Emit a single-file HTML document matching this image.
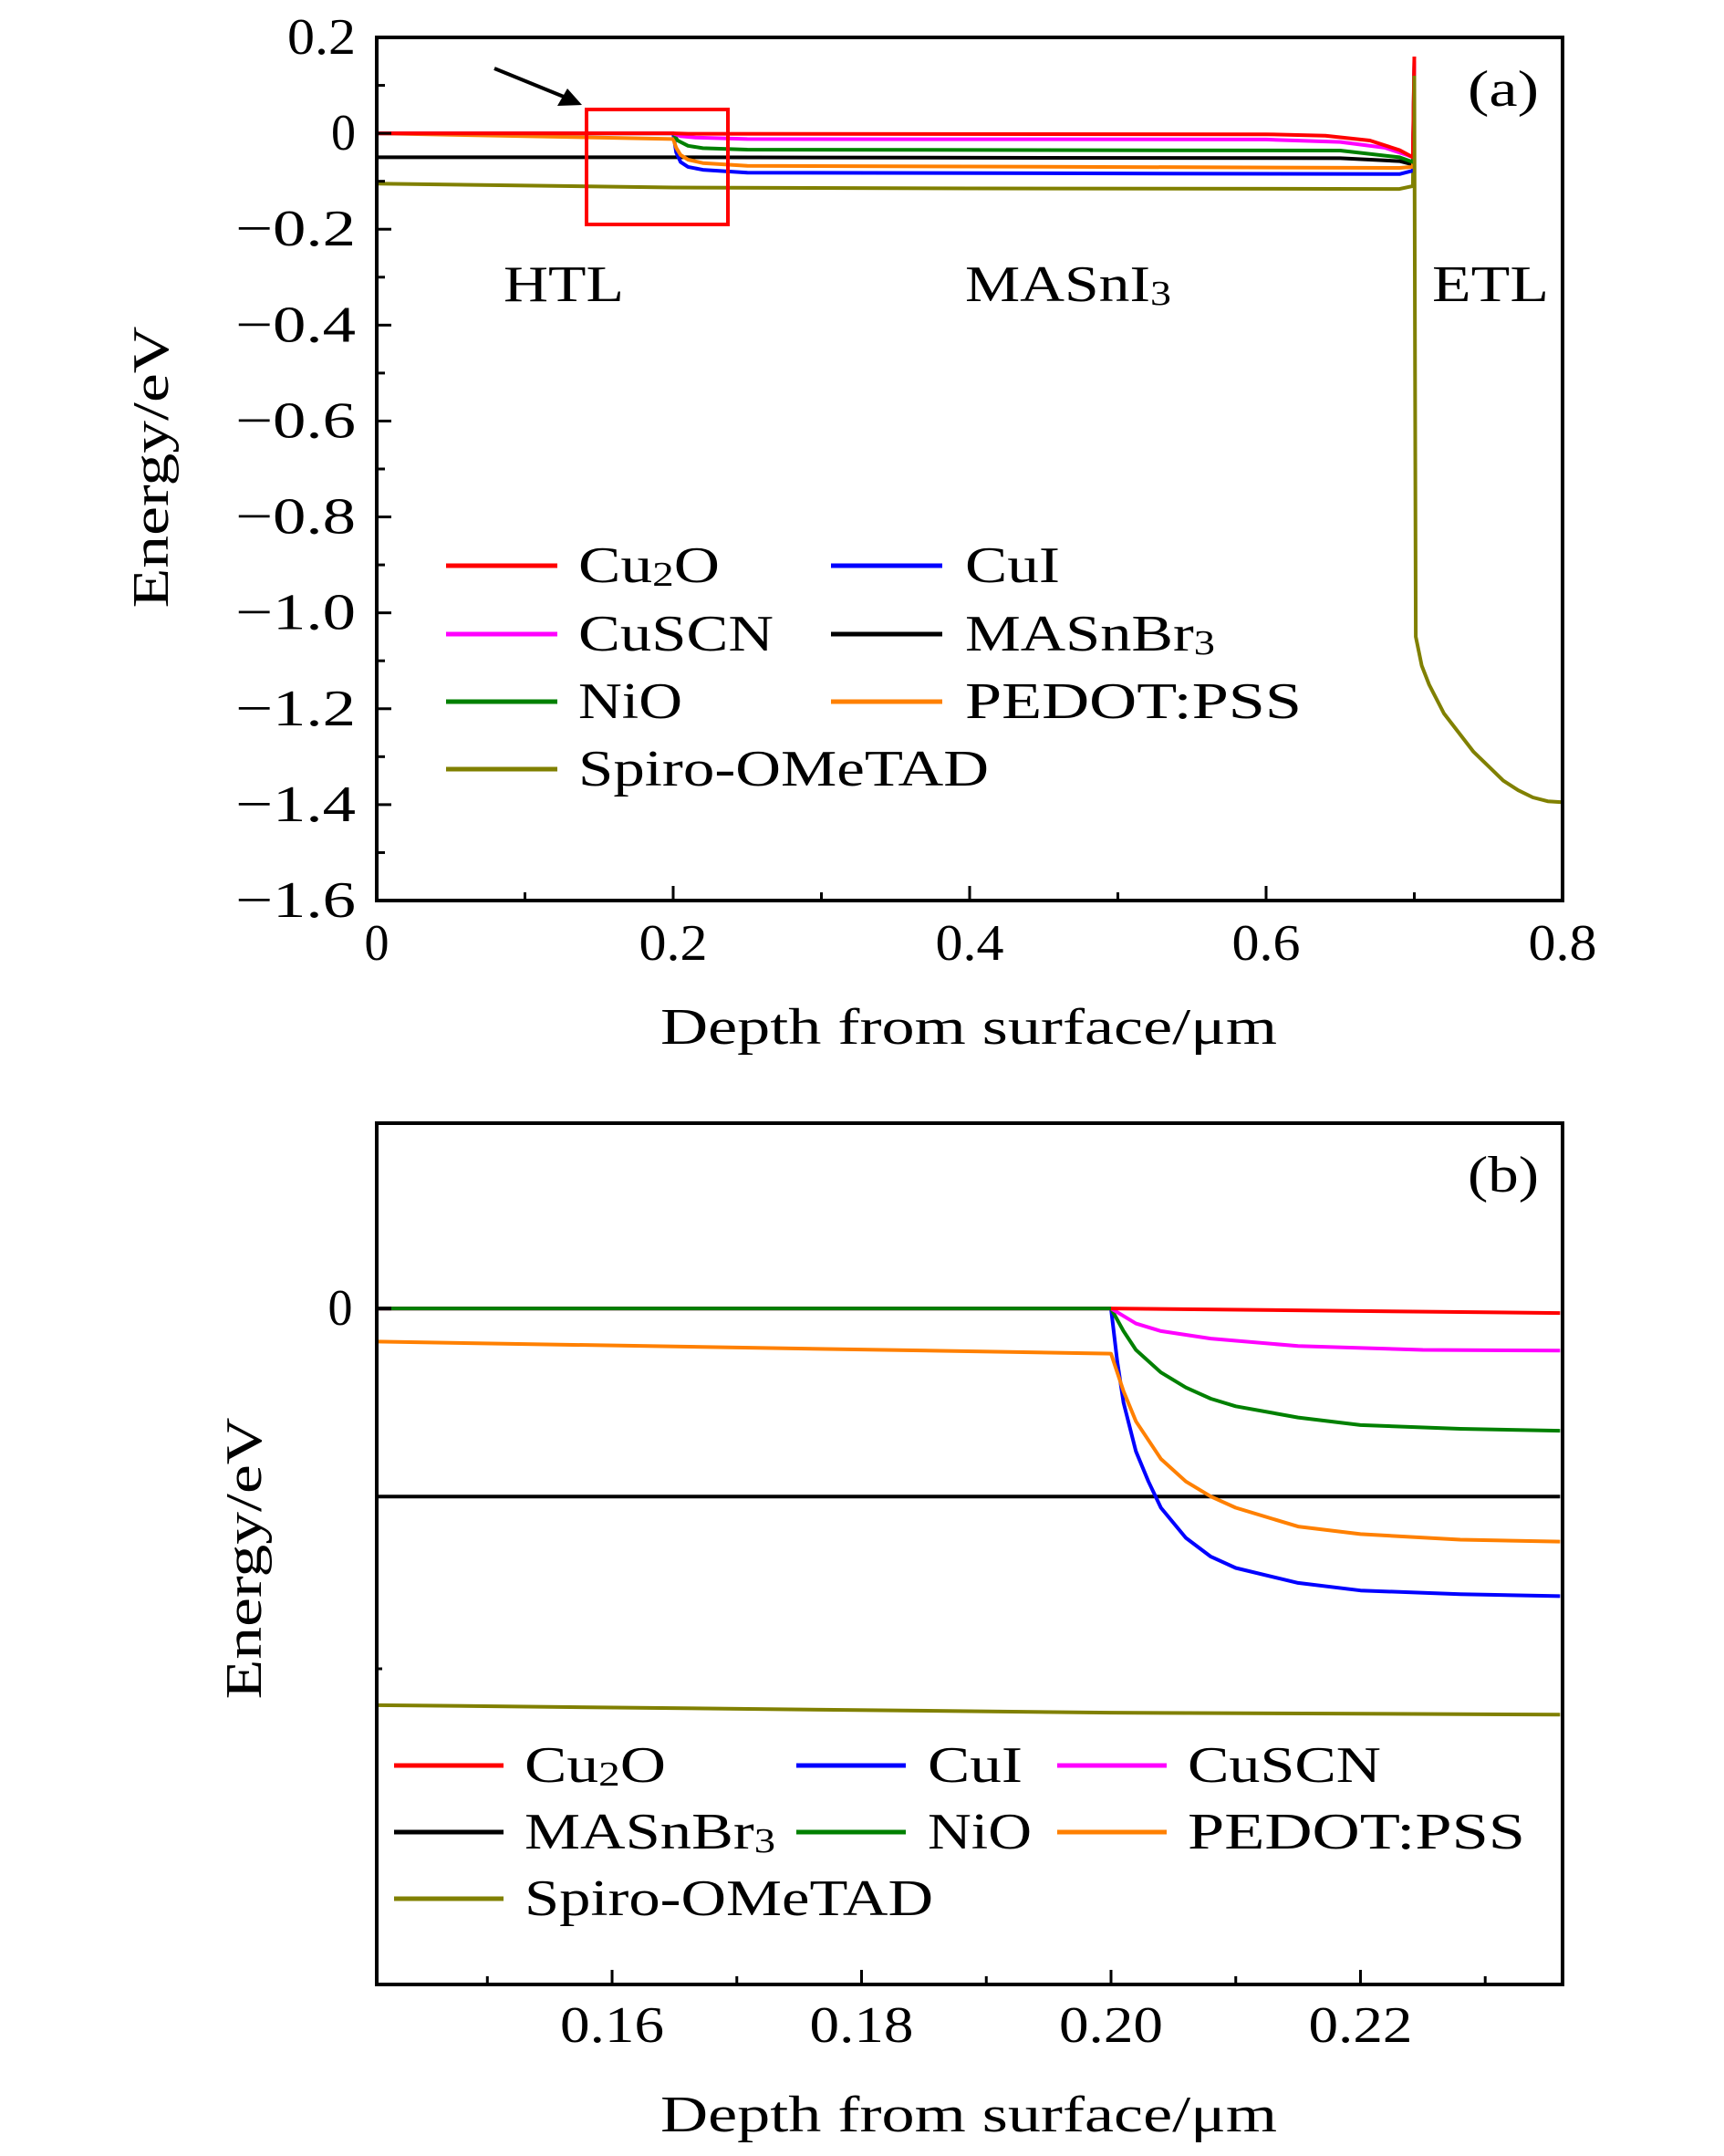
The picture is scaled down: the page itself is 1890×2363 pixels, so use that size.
<!DOCTYPE html>
<html><head><meta charset="utf-8"><style>
html,body{margin:0;padding:0;background:#fff;}
svg{display:block;font-family:"Liberation Serif",serif;}
</style></head><body>
<svg id="s" width="1890" height="2363" viewBox="0 0 1890 2363" xmlns="http://www.w3.org/2000/svg"></svg>
<script>
// ---------- data ----------
const seriesNames=["Cu2O","CuI","CuSCN","MASnBr3","NiO","PEDOT:PSS","Spiro-OMeTAD"];
const seriesColors=["#ff0000","#0000ff","#ff00ff","#000000","#008000","#ff8000","#808000"];
// panel (a)
const aX_Cu2O=[0,0.2,0.21,0.6,0.64,0.67,0.69,0.699,0.7];
const aY_Cu2O=[0,0,-0.001,-0.002,-0.005,-0.015,-0.035,-0.05,0.16];
const aX_CuI=[0,0.2,0.202,0.205,0.21,0.22,0.25,0.69,0.699,0.7];
const aY_CuI=[0,0,-0.04,-0.06,-0.07,-0.076,-0.082,-0.085,-0.078,0.14];
const aX_CuSCN=[0,0.2,0.205,0.215,0.25,0.6,0.65,0.68,0.695,0.699,0.7];
const aY_CuSCN=[0,0,-0.006,-0.009,-0.012,-0.013,-0.018,-0.03,-0.045,-0.05,0.15];
const aX_MASnBr3=[0,0.2,0.65,0.69,0.699,0.7];
const aY_MASnBr3=[-0.05,-0.05,-0.052,-0.058,-0.065,0.13];
const aX_NiO=[0,0.2,0.203,0.21,0.22,0.25,0.65,0.69,0.699,0.7];
const aY_NiO=[0,0,-0.015,-0.026,-0.031,-0.034,-0.036,-0.05,-0.06,0.15];
const aX_PEDOT=[0,0.2,0.202,0.205,0.21,0.22,0.25,0.69,0.699,0.7];
const aY_PEDOT=[0,-0.012,-0.03,-0.045,-0.055,-0.062,-0.068,-0.072,-0.07,0.14];
const aX_Spiro=[0,0.2,0.4,0.69,0.699,0.7];
const aY_Spiro=[-0.105,-0.113,-0.115,-0.116,-0.11,0.12];
const aX_ETL=[0.7,0.7005,0.701,0.705,0.71,0.72,0.73,0.74,0.75,0.76,0.77,0.78,0.79,0.8];
const aY_ETL=[0.12,-0.5,-1.05,-1.11,-1.15,-1.21,-1.25,-1.29,-1.32,-1.35,-1.37,-1.385,-1.393,-1.395];
const aXTicks=[0,0.2,0.4,0.6,0.8];
const aXTickLabels=["0","0.2","0.4","0.6","0.8"];
const aYTicks=[0.2,0,-0.2,-0.4,-0.6,-0.8,-1.0,-1.2,-1.4,-1.6];
const aYTickLabels=["0.2","0","−0.2","−0.4","−0.6","−0.8","−1.0","−1.2","−1.4","−1.6"];
// panel (b)
const bX_Cu2O=[0.141,0.2,0.236];
const bY_Cu2O=[0,0,-0.0012];
const bX_CuI=[0.141,0.2,0.2005,0.201,0.202,0.203,0.204,0.206,0.208,0.21,0.215,0.22,0.228,0.236];
const bY_CuI=[0,0,-0.014,-0.025,-0.038,-0.046,-0.053,-0.061,-0.066,-0.069,-0.073,-0.075,-0.076,-0.0765];
const bX_CuSCN=[0.141,0.2,0.202,0.204,0.208,0.215,0.225,0.236];
const bY_CuSCN=[0,0,-0.004,-0.006,-0.008,-0.010,-0.011,-0.0112];
const bX_MASnBr3=[0.141,0.236];
const bY_MASnBr3=[-0.05,-0.05];
const bX_NiO=[0.141,0.2,0.201,0.202,0.204,0.206,0.208,0.21,0.215,0.22,0.228,0.236];
const bY_NiO=[0,0,-0.006,-0.011,-0.017,-0.021,-0.024,-0.026,-0.029,-0.031,-0.032,-0.0325];
const bX_PEDOT=[0.141,0.2,0.201,0.202,0.204,0.206,0.208,0.21,0.215,0.22,0.228,0.236];
const bY_PEDOT=[-0.0088,-0.012,-0.022,-0.030,-0.040,-0.046,-0.050,-0.053,-0.058,-0.060,-0.0615,-0.062];
const bX_Spiro=[0.141,0.2,0.236];
const bY_Spiro=[-0.1055,-0.1075,-0.108];
const bXTicks=[0.16,0.18,0.20,0.22];
const bXTickLabels=["0.16","0.18","0.20","0.22"];
const bXMinor=[0.15,0.17,0.19,0.21,0.23];

// ---------- helpers ----------
const NS="http://www.w3.org/2000/svg";
const svg=document.getElementById('s');
function mk(tag,attrs,parent){const e=document.createElementNS(NS,tag);for(const k in attrs)e.setAttribute(k,attrs[k]);(parent||svg).appendChild(e);return e;}
function txt(s,x,y,size,anchor,parent,len){const a={x:x,y:y,'font-size':size,'text-anchor':anchor||'start','dominant-baseline':'central',fill:'#000'};if(len){a.textLength=len;a.lengthAdjust='spacingAndGlyphs';}const t=mk('text',a,parent);t.innerHTML=s;return t;}

const A={x0:413,x1:1713,y0:41,y1:987,xmin:0,xmax:0.8,ymin:-1.6,ymax:0.2};
const B={x0:413,x1:1713,y0:1231,y1:2175,xmin:0.14113,xmax:0.2362,ymin:-0.1798,ymax:0.0493};
function sx(P,v){return P.x0+(v-P.xmin)/(P.xmax-P.xmin)*(P.x1-P.x0);}
function sy(P,v){return P.y1-(v-P.ymin)/(P.ymax-P.ymin)*(P.y1-P.y0);}
function line(P,xs,ys,color,name,g){
  const d=xs.map((x,i)=>(i?'L':'M')+sx(P,x).toFixed(1)+','+sy(P,ys[i]).toFixed(1)).join(' ');
  const p=mk('path',{d:d,fill:'none',stroke:color,'stroke-width':4,'stroke-linejoin':'round'},g);
  
  
}
const FS=56;
function labW(s){const n=s.replace(/−/,'').length;return (n==1?27:n*25)+(s[0]=='−'?57:0);}

// ===== Panel A =====
const defs=mk('defs',{});
const ca=mk('clipPath',{id:'ca'},defs);mk('rect',{x:A.x0,y:A.y0,width:A.x1-A.x0,height:A.y1-A.y0},ca);
const cb=mk('clipPath',{id:'cb'},defs);mk('rect',{x:B.x0,y:B.y0,width:B.x1-B.x0,height:B.y1-B.y0},cb);
const gA=mk('g',{'clip-path':'url(#ca)'});



const aSets=[[aX_Spiro,aY_Spiro],[aX_MASnBr3,aY_MASnBr3],[aX_CuI,aY_CuI],[aX_PEDOT,aY_PEDOT],[aX_NiO,aY_NiO],[aX_CuSCN,aY_CuSCN],[aX_Cu2O,aY_Cu2O]];
const aIdx=[6,3,1,5,4,2,0];
aSets.forEach((s,i)=>line(A,s[0],s[1],seriesColors[aIdx[i]],'series-a-'+seriesNames[aIdx[i]].toLowerCase().replace(/[^a-z0-9]/g,''),gA));
line(A,aX_ETL,aY_ETL,seriesColors[6],'series-a-etl-tail',gA);

const frameA=mk('rect',{x:A.x0,y:A.y0,width:A.x1-A.x0,height:A.y1-A.y0,fill:'none',stroke:'#000','stroke-width':4});


aXTicks.forEach((v,i)=>{const x=sx(A,v);mk('line',{x1:x,x2:x,y1:A.y1,y2:A.y1-16,stroke:'#000','stroke-width':3});
  const t=txt(aXTickLabels[i],x,1034,FS,'middle',null,labW(aXTickLabels[i]));
  if(i<aXTicks.length-1){const xm=sx(A,v+0.1);mk('line',{x1:xm,x2:xm,y1:A.y1,y2:A.y1-9,stroke:'#000','stroke-width':3});}
});
aYTicks.forEach((v,i)=>{const y=sy(A,v);mk('line',{x1:A.x0,x2:A.x0+16,y1:y,y2:y,stroke:'#000','stroke-width':3});
  const t=txt(aYTickLabels[i],390,y,FS,'end',null,labW(aYTickLabels[i]));
  if(i<aYTicks.length-1){const ym=sy(A,v-0.1);mk('line',{x1:A.x0,x2:A.x0+9,y1:ym,y2:ym,stroke:'#000','stroke-width':3});}
});
let t;
t=txt('Energy/eV',0,0,FS,'middle',null,309);t.setAttribute('transform','translate(166,512) rotate(-90)');
t=txt('Depth from surface/μm',1062,1126,FS,'middle',null,676);
t=txt('(a)',1609,98,FS,'start',null,78);
t=txt('HTL',552,312,FS,'start',null,132);
t=txt('MASnI<tspan font-size="38" dy="10">3</tspan>',1058,312,FS,'start',null,226);
t=txt('ETL',1570,312,FS,'start',null,128);
const zr=mk('rect',{x:643,y:120,width:155,height:126,fill:'none',stroke:'#ff0000','stroke-width':4});

const ar=mk('g',{});
mk('line',{x1:542,y1:75,x2:618,y2:106,stroke:'#000','stroke-width':4},ar);
mk('polygon',{points:'638,115 611,116 622,97',fill:'#000'},ar);

const legA=[[0,489,634,620,'Cu<tspan font-size="38" dy="10">2</tspan><tspan dy="-10">O</tspan>',155],[1,911,1058,620,'CuI',104],[2,489,634,695,'CuSCN',214],[3,911,1058,695,'MASnBr<tspan font-size="38" dy="10">3</tspan>',274],[4,489,634,769,'NiO',114],[5,911,1058,769,'PEDOT:PSS',369],[6,489,634,843,'Spiro-OMeTAD',450]];
legA.forEach(l=>{const g=mk('g',{});
  mk('line',{x1:l[1],x2:l[1]+122,y1:l[3],y2:l[3],stroke:seriesColors[l[0]],'stroke-width':5},g);txt(l[4],l[2],l[3],FS,'start',g,l[5]);});

// ===== Panel B =====
const gB=mk('g',{'clip-path':'url(#cb)'});


const bSets=[[bX_Spiro,bY_Spiro,6],[bX_MASnBr3,bY_MASnBr3,3],[bX_CuI,bY_CuI,1],[bX_PEDOT,bY_PEDOT,5],[bX_NiO,bY_NiO,4],[bX_CuSCN,bY_CuSCN,2],[bX_Cu2O,bY_Cu2O,0]];
bSets.forEach(s=>line(B,s[0],s[1],seriesColors[s[2]],'series-b-'+seriesNames[s[2]].toLowerCase().replace(/[^a-z0-9]/g,''),gB));
line(B,[0.141,0.2],[0,0],seriesColors[4],'series-b-nio-flat',gB);
const frameB=mk('rect',{x:B.x0,y:B.y0,width:B.x1-B.x0,height:B.y1-B.y0,fill:'none',stroke:'#000','stroke-width':4});

bXTicks.forEach((v,i)=>{const x=sx(B,v);mk('line',{x1:x,x2:x,y1:B.y1,y2:B.y1-16,stroke:'#000','stroke-width':3});
  const tt=txt(bXTickLabels[i],x,2220,FS,'middle',null,114);});
bXMinor.forEach(v=>{const x=sx(B,v);mk('line',{x1:x,x2:x,y1:B.y1,y2:B.y1-9,stroke:'#000','stroke-width':3});});
mk('line',{x1:B.x0,x2:B.x0+16,y1:sy(B,0),y2:sy(B,0),stroke:'#000','stroke-width':4});
mk('line',{x1:B.x0,x2:B.x0+6,y1:1829,y2:1829,stroke:'#000','stroke-width':3});
t=txt('0',373,sy(B,0),FS,'middle',null,27);
t=txt('Energy/eV',0,0,FS,'middle',null,309);t.setAttribute('transform','translate(268,1708) rotate(-90)');
t=txt('Depth from surface/μm',1062,2318,FS,'middle',null,676);
t=txt('(b)',1609,1288,FS,'start',null,78);
const legB=[[0,432,575,1935,'Cu<tspan font-size="38" dy="10">2</tspan><tspan dy="-10">O</tspan>',155],[1,873,1017,1935,'CuI',104],[2,1159,1302,1935,'CuSCN',212],[3,432,575,2008,'MASnBr<tspan font-size="38" dy="10">3</tspan>',275],[4,873,1017,2008,'NiO',114],[5,1159,1302,2008,'PEDOT:PSS',370],[6,432,575,2081,'Spiro-OMeTAD',448]];
legB.forEach(l=>{const g=mk('g',{});
  mk('line',{x1:l[1],x2:l[1]+120,y1:l[3],y2:l[3],stroke:seriesColors[l[0]],'stroke-width':5},g);txt(l[4],l[2],l[3],FS,'start',g,l[5]);});
</script>
</body></html>
